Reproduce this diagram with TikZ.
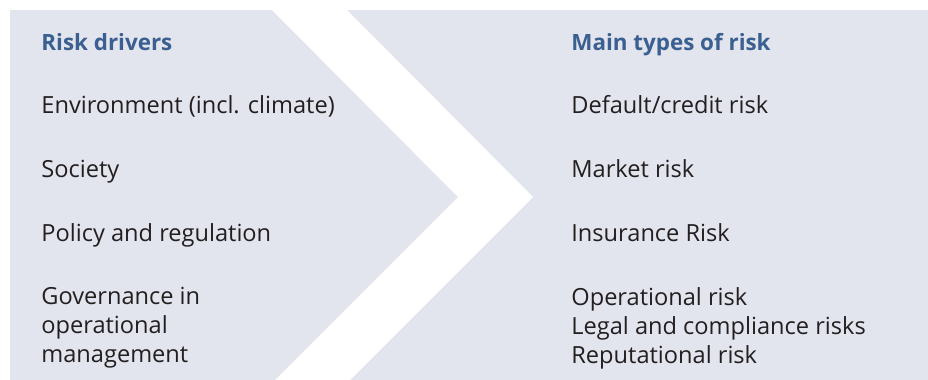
\documentclass[tikz,border=0pt]{standalone}
\usepackage{fontspec}
\setmainfont{Open Sans}
\usepackage{tikz}
\definecolor{panel}{HTML}{E3E5EE}
\definecolor{headblue}{HTML}{3A5F91}
\definecolor{ink}{HTML}{231F20}
\tikzset{
  item/.style={anchor=base west, inner sep=0pt, text=ink, align=left,
    font=\fontsize{11.8}{14.5}\selectfont},
  heading/.style={item, text=headblue, font=\fontsize{11.2}{14.5}\selectfont\bfseries}
}

\begin{document}
\begin{tikzpicture}[x=0.5pt, y=-0.5pt]
        \useasboundingbox (0,0) rectangle (928,380);
        \fill[panel] (10,10) rectangle (928,380);
        \fill[white] (272,10) -- (347,10) -- (533,197) -- (350,380)
                -- (275,380) -- (458,197) -- cycle;
        % multi-line nodes sit on the baseline of their last line
        \node (drivers) [heading] at (41,50) {Risk drivers};
        \node (d1) [item] at (41,113) {Environment (incl. climate)};
        \node (d2) [item] at (41,177) {Society};
        \node (d3) [item] at (41,241) {Policy and regulation};
        \node (d4) [item] at (41,362) {Governance in\\operational\\management};
        \node (types) [heading] at (571,50) {Main types of risk};
        \node (t1) [item] at (571,113) {Default/credit risk};
        \node (t2) [item] at (571,177) {Market risk};
        \node (t3) [item] at (571,241) {Insurance Risk};
        \node (t4) [item] at (571,363) {Operational risk\\Legal and compliance risks\\Reputational risk};
\end{tikzpicture}
\end{document}
